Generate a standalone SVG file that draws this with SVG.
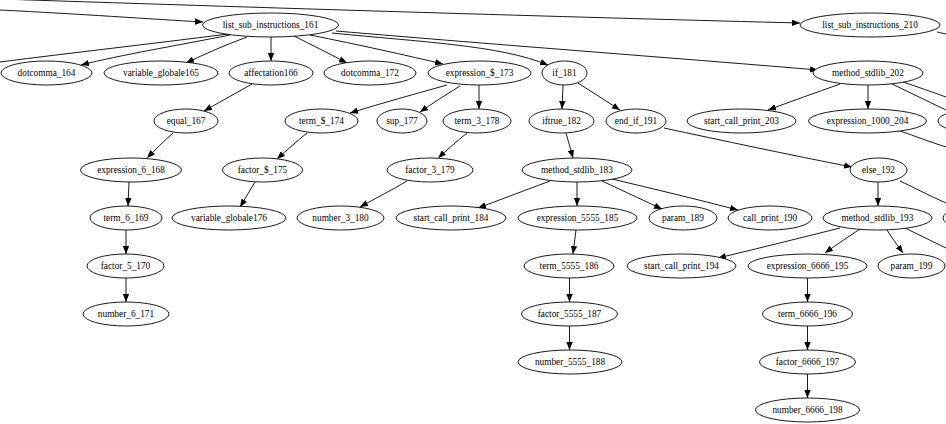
<svg xmlns="http://www.w3.org/2000/svg" width="946" height="424" viewBox="0 0 946 424">
<style>
.n ellipse{fill:#fff;stroke:#000;stroke-width:0.9}
.n text{font-family:"Liberation Serif","Times New Roman",serif;font-size:9.3px;text-anchor:middle;fill:#000}
.e path{fill:none;stroke:#000;stroke-width:0.9}
.ea path{marker-end:url(#ah)}
</style>
<defs>
<marker id="ah" viewBox="0 0 10 8" refX="10" refY="4" markerWidth="8" markerHeight="6.4" orient="auto" markerUnits="userSpaceOnUse">
<path d="M0,0 L10,4 L0,8 z" fill="#000"/>
</marker>
</defs>
<rect width="946" height="424" fill="#fff"/>
<g id="connectors" class="e">
<g class="ea">
<path d="M0,-1 C300,9 600,18 800,23"/>
<path d="M0,10 C80,14 150,19 203,22"/>
<path d="M230,35 C180,45 120,55 81,65"/>
<path d="M247,37 C225,45 205,54 186,63"/>
<path d="M271,37 L271,61"/>
<path d="M294,36 C312,45 330,54 347,63"/>
<path d="M310,35 C360,45 405,55 443,64"/>
<path d="M332,33 C420,42 500,45 548,65"/>
<path d="M336,31 C500,45 700,60 818,70"/>
<path d="M252,84 C236,93 220,102 204,111"/>
<path d="M447,85 C415,94 382,103 350,113"/>
<path d="M460,86 C447,94 433,103 420,112"/>
<path d="M479,85 L479,109"/>
<path d="M563,85 L562,109"/>
<path d="M578,83 C592,92 606,101 620,110"/>
<path d="M840,84 C815,93 792,101 768,110"/>
<path d="M868,85 L868,109"/>
<path d="M173,133 C164,141 155,150 147,158"/>
<path d="M307,133 C297,141 287,150 277,159"/>
<path d="M467,133 C457,141 447,150 438,158"/>
<path d="M566,133 L573,158"/>
<path d="M664,128 C720,140 790,155 852,167"/>
<path d="M129,182 L128,206"/>
<path d="M255,182 C250,190 245,199 240,207"/>
<path d="M407,181 C392,190 376,198 360,207"/>
<path d="M550,181 C526,190 502,199 478,208"/>
<path d="M577,182 L577,206"/>
<path d="M602,181 C622,190 642,200 662,209"/>
<path d="M612,179 C654,189 696,199 738,210"/>
<path d="M878,182 L878,206"/>
<path d="M126,230 L126,254"/>
<path d="M576,230 L573,254"/>
<path d="M840,228 C800,238 760,248 718,258"/>
<path d="M860,229 C848,237 836,245 825,253"/>
<path d="M887,230 C892,238 898,246 903,253"/>
<path d="M126,278 L126,302"/>
<path d="M569.5,278 L569.5,302"/>
<path d="M807.5,278 L807.5,302"/>
<path d="M569.5,326 L569.5,350"/>
<path d="M807.5,326 L807.5,350"/>
<path d="M807.5,374 L807.5,398"/>
</g>
<path d="M228,34 C150,44 70,53 0,62"/>
<path d="M937,32 L946,34"/>
<path d="M892,84 C910,93 928,101 946,110"/>
<path d="M903,82 C918,87 932,92 946,97"/>
<path d="M900,131 C915,136 930,142 946,147"/>
<path d="M900,181 C915,188 930,196 946,203"/>
<path d="M905,228 C919,235 932,241 946,248"/>
</g>
<g id="list_sub_instructions_161" class="n"><ellipse cx="270.5" cy="25" rx="68" ry="12"/><text x="270.5" y="28.2">list_sub_instructions_161</text></g>
<g id="list_sub_instructions_210" class="n"><ellipse cx="870" cy="25" rx="70" ry="12"/><text x="870" y="28.2">list_sub_instructions_210</text></g>
<g id="dotcomma_164" class="n"><ellipse cx="46.5" cy="73" rx="45.5" ry="12"/><text x="46.5" y="76.2">dotcomma_164</text></g>
<g id="variable_globale165" class="n"><ellipse cx="161" cy="73" rx="57" ry="12"/><text x="161" y="76.2">variable_globale165</text></g>
<g id="affectation166" class="n"><ellipse cx="271" cy="73" rx="42" ry="12"/><text x="271" y="76.2">affectation166</text></g>
<g id="dotcomma_172" class="n"><ellipse cx="370" cy="73" rx="46" ry="12"/><text x="370" y="76.2">dotcomma_172</text></g>
<g id="expression_173" class="n"><ellipse cx="479.5" cy="73" rx="51.5" ry="12"/><text x="479.5" y="76.2">expression_$_173</text></g>
<g id="if_181" class="n"><ellipse cx="564.5" cy="73" rx="22.5" ry="12"/><text x="564.5" y="76.2">if_181</text></g>
<g id="method_stdlib_202" class="n"><ellipse cx="868" cy="73" rx="55" ry="12"/><text x="868" y="76.2">method_stdlib_202</text></g>
<g id="equal_167" class="n"><ellipse cx="186" cy="121" rx="32" ry="12"/><text x="186" y="124.2">equal_167</text></g>
<g id="term_174" class="n"><ellipse cx="321.5" cy="121" rx="36.5" ry="12"/><text x="321.5" y="124.2">term_$_174</text></g>
<g id="sup_177" class="n"><ellipse cx="402" cy="121" rx="25" ry="12"/><text x="402" y="124.2">sup_177</text></g>
<g id="term_3_178" class="n"><ellipse cx="477" cy="121" rx="34" ry="12"/><text x="477" y="124.2">term_3_178</text></g>
<g id="iftrue_182" class="n"><ellipse cx="561.5" cy="121" rx="32.5" ry="12"/><text x="561.5" y="124.2">iftrue_182</text></g>
<g id="end_if_191" class="n"><ellipse cx="636" cy="121" rx="30" ry="12"/><text x="636" y="124.2">end_if_191</text></g>
<g id="start_call_print_203" class="n"><ellipse cx="741.5" cy="121" rx="54.5" ry="12"/><text x="741.5" y="124.2">start_call_print_203</text></g>
<g id="expression_1000_204" class="n"><ellipse cx="867.5" cy="121" rx="59" ry="12"/><text x="867.5" y="124.2">expression_1000_204</text></g>
<g id="partial_row2" class="n"><ellipse cx="978" cy="121" rx="40" ry="12"/></g>
<g id="expression_6_168" class="n"><ellipse cx="131" cy="170" rx="50.5" ry="12"/><text x="131" y="173.2">expression_6_168</text></g>
<g id="factor_175" class="n"><ellipse cx="262.5" cy="170" rx="40" ry="12"/><text x="262.5" y="173.2">factor_$_175</text></g>
<g id="factor_3_179" class="n"><ellipse cx="430" cy="170" rx="43" ry="12"/><text x="430" y="173.2">factor_3_179</text></g>
<g id="method_stdlib_183" class="n"><ellipse cx="577" cy="170" rx="55" ry="12"/><text x="577" y="173.2">method_stdlib_183</text></g>
<g id="else_192" class="n"><ellipse cx="878.5" cy="170" rx="28.5" ry="12"/><text x="878.5" y="173.2">else_192</text></g>
<g id="term_6_169" class="n"><ellipse cx="126" cy="218" rx="36" ry="12"/><text x="126" y="221.2">term_6_169</text></g>
<g id="variable_globale176" class="n"><ellipse cx="229" cy="218" rx="57" ry="12"/><text x="229" y="221.2">variable_globale176</text></g>
<g id="number_3_180" class="n"><ellipse cx="340.5" cy="218" rx="43.5" ry="12"/><text x="340.5" y="221.2">number_3_180</text></g>
<g id="start_call_print_184" class="n"><ellipse cx="451" cy="218" rx="55" ry="12"/><text x="451" y="221.2">start_call_print_184</text></g>
<g id="expression_5555_185" class="n"><ellipse cx="577.5" cy="218" rx="59.5" ry="12"/><text x="577.5" y="221.2">expression_5555_185</text></g>
<g id="param_189" class="n"><ellipse cx="683" cy="218" rx="34" ry="12"/><text x="683" y="221.2">param_189</text></g>
<g id="call_print_190" class="n"><ellipse cx="770" cy="218" rx="42" ry="12"/><text x="770" y="221.2">call_print_190</text></g>
<g id="method_stdlib_193" class="n"><ellipse cx="877.5" cy="218" rx="54.5" ry="12"/><text x="877.5" y="221.2">method_stdlib_193</text></g>
<g id="partial_row4" class="n"><ellipse cx="980" cy="218" rx="37" ry="12"/></g>
<g id="factor_5_170" class="n"><ellipse cx="125.5" cy="266" rx="38.5" ry="12"/><text x="125.5" y="269.2">factor_5_170</text></g>
<g id="term_5555_186" class="n"><ellipse cx="569" cy="266" rx="45" ry="12"/><text x="569" y="269.2">term_5555_186</text></g>
<g id="start_call_print_194" class="n"><ellipse cx="681.5" cy="266" rx="54.5" ry="12"/><text x="681.5" y="269.2">start_call_print_194</text></g>
<g id="expression_6666_195" class="n"><ellipse cx="807.5" cy="266" rx="59.5" ry="12"/><text x="807.5" y="269.2">expression_6666_195</text></g>
<g id="param_199" class="n"><ellipse cx="911.5" cy="266" rx="33.5" ry="12"/><text x="911.5" y="269.2">param_199</text></g>
<g id="number_6_171" class="n"><ellipse cx="126" cy="314" rx="43" ry="12"/><text x="126" y="317.2">number_6_171</text></g>
<g id="factor_5555_187" class="n"><ellipse cx="569.5" cy="314" rx="48" ry="12"/><text x="569.5" y="317.2">factor_5555_187</text></g>
<g id="term_6666_196" class="n"><ellipse cx="807.5" cy="314" rx="45" ry="12"/><text x="807.5" y="317.2">term_6666_196</text></g>
<g id="number_5555_188" class="n"><ellipse cx="570" cy="362" rx="52" ry="12"/><text x="570" y="365.2">number_5555_188</text></g>
<g id="factor_6666_197" class="n"><ellipse cx="807.5" cy="362" rx="48" ry="12"/><text x="807.5" y="365.2">factor_6666_197</text></g>
<g id="number_6666_198" class="n"><ellipse cx="807.5" cy="410" rx="52" ry="12"/><text x="807.5" y="413.2">number_6666_198</text></g>
</svg>
